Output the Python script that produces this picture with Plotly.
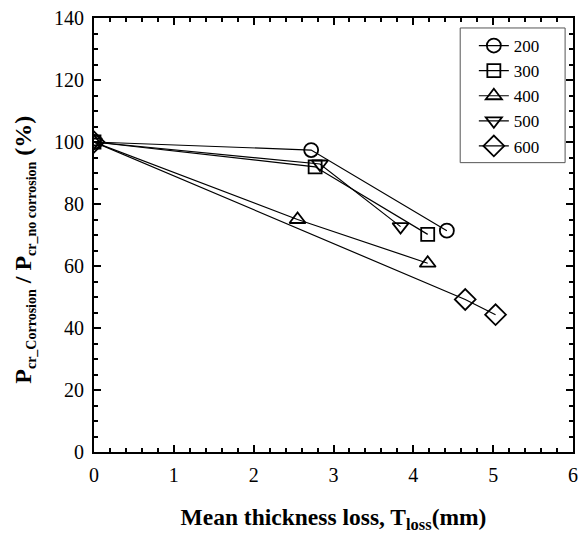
import plotly.graph_objects as go

names = ["200", "300", "400", "500", "600"]
x200 = [0, 2.72, 4.42]; y200 = [100, 97.4, 71.4]
x300 = [0, 2.77, 4.18]; y300 = [100, 92.0, 70.2]
x400 = [0, 2.55, 4.18]; y400 = [100, 75.0, 60.9]
x500 = [0, 2.83, 3.84]; y500 = [100, 92.9, 72.7]
x600 = [0, 4.65, 5.03]; y600 = [100, 49.2, 44.3]
xs = [x200, x300, x400, x500, x600]
ys = [y200, y300, y400, y500, y600]
symbols = ["circle-open", "square-open", "triangle-up-open", "triangle-down-open", "diamond-open"]
sizes = [14, 13, 14, 14, 16]

fig = go.Figure()
for n, x, y, s, sz in zip(names, xs, ys, symbols, sizes):
    fig.add_trace(go.Scatter(x=x, y=y, name=n, mode="lines+markers",
                             line=dict(color="black", width=1.2),
                             marker=dict(symbol=s, size=sz, color="black",
                                         line=dict(width=1.8, color="black"))))

font = "Liberation Serif, Times New Roman, serif"
axis_common = dict(showline=True, linecolor="black", linewidth=2, mirror="ticks",
                   ticks="inside", ticklen=7, tickwidth=1.5, tickcolor="black",
                   showgrid=False, zeroline=False,
                   tickfont=dict(family=font, size=20, color="black"))
fig.update_xaxes(range=[0, 6], dtick=1, ticklabelstandoff=4,
                 minor=dict(ticks="inside", ticklen=4, dtick=0.2, tickcolor="black"),
                 title=dict(text="<b>Mean thickness loss, T<sub>loss</sub>(mm)</b>",
                            font=dict(family=font, size=23.5, color="black"), standoff=24),
                 **axis_common)
fig.update_yaxes(range=[0, 140], dtick=20, ticklabelstandoff=4,
                 minor=dict(ticks="inside", ticklen=4, dtick=5, tickcolor="black"),
                 **axis_common)
sub = "<span style='font-size:14px'>%s</span>"
ytitle = "<b>P<sub>" + sub % "cr_Corrosion" + "</sub> / P<sub>" + sub % "cr_no corrosion" + "</sub> (%)</b>"
fig.add_annotation(text=ytitle, textangle=-90, xref="paper", yref="paper",
                   x=-0.145, y=0.465, xanchor="center", yanchor="middle",
                   showarrow=False, font=dict(family=font, size=24, color="black"))
# legend frame
fig.add_shape(type="rect", xref="paper", yref="paper",
              x0=0.7645, x1=0.9835, y0=0.6667, y1=0.977,
              line=dict(color="#555", width=1), layer="above")
fig.update_layout(width=585, height=534, margin=dict(l=94, r=7, t=17, b=82),
                  plot_bgcolor="white", paper_bgcolor="white",
                  legend=dict(x=0.793, y=0.977, xanchor="left", yanchor="top",
                              borderwidth=0, bgcolor="rgba(0,0,0,0)",
                              font=dict(family=font, size=17, color="black"),
                              tracegroupgap=0, itemwidth=30))
fig.write_html("out.html")
